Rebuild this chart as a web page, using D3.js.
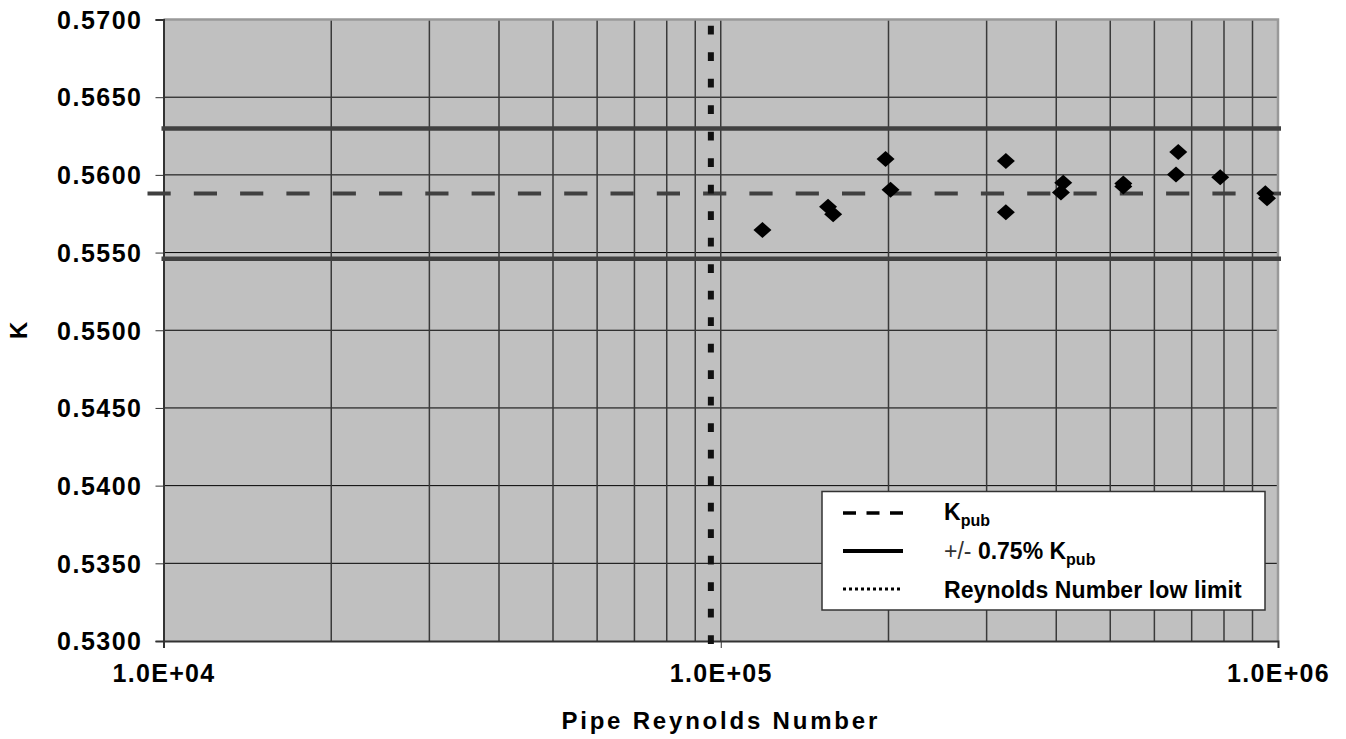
<!DOCTYPE html>
<html>
<head>
<meta charset="utf-8">
<script src="https://cdn.jsdelivr.net/npm/d3@7"></script>
<style>
  body { margin: 0; background: #fff; }
  text { font-family: "Liberation Sans", Arial, sans-serif; font-weight: bold; fill: #000; }
</style>
</head>
<body>
<script>
// measured points, pipe Reynolds number vs K
var reynolds = [118800, 155800, 159100, 197600, 201700, 324800, 324800, 411700,
                407800, 527700, 527700, 662200, 656000, 787700, 949000, 955700];
var kValues = [0.55646, 0.55795, 0.55746, 0.56102, 0.55904, 0.56089, 0.55760, 0.55949,
               0.55887, 0.55945, 0.55925, 0.56147, 0.56003, 0.55984, 0.55881, 0.55849];

// reference lines
var kPub = 0.5588;
var tolerance = 0.0075;
var reLowLimit = 96000;

// axis ticks
var yTicks = [0.5300, 0.5350, 0.5400, 0.5450, 0.5500, 0.5550, 0.5600, 0.5650, 0.5700];
var xLabelTicks = [1e4, 1e5, 1e6];
var xGridTicks = [2e4, 3e4, 4e4, 5e4, 6e4, 7e4, 8e4, 9e4, 1e5,
                  2e5, 3e5, 4e5, 5e5, 6e5, 7e5, 8e5, 9e5];

var width = 1346, height = 739;
var margin = {top: 19.5, right: 68, bottom: 98, left: 163.5};
var plotW = width - margin.left - margin.right;
var plotH = height - margin.top - margin.bottom;

var svg = d3.select("body").append("svg")
    .attr("width", width)
    .attr("height", height);

var x = d3.scaleLog().domain([1e4, 1e6]).range([margin.left, margin.left + plotW]);
var y = d3.scaleLinear().domain([0.53, 0.57]).range([margin.top + plotH, margin.top]);

// plot background
svg.append("rect")
    .attr("x", x(1e4)).attr("y", y(0.57))
    .attr("width", plotW).attr("height", plotH)
    .attr("fill", "#c0c0c0");

// horizontal grid
svg.append("g").selectAll("line")
    .data(yTicks.slice(1, -1))
    .enter().append("line")
    .attr("x1", x(1e4)).attr("x2", x(1e6))
    .attr("y1", function(d) { return y(d); })
    .attr("y2", function(d) { return y(d); })
    .attr("stroke", "#000")
    .attr("stroke-width", 1);

// vertical grid
svg.append("g").selectAll("line")
    .data(xGridTicks)
    .enter().append("line")
    .attr("x1", function(d) { return x(d); })
    .attr("x2", function(d) { return x(d); })
    .attr("y1", y(0.57)).attr("y2", y(0.53))
    .attr("stroke", "#3a3a3a")
    .attr("stroke-width", 1.5);

// top and right border
svg.append("path")
    .attr("d", "M" + x(1e4) + "," + y(0.57) + "H" + x(1e6) + "V" + y(0.53))
    .attr("fill", "none")
    .attr("stroke", "#999")
    .attr("stroke-width", 2.5);

// y axis
var yAxis = svg.append("g")
    .attr("transform", "translate(" + x(1e4) + ",0)")
    .call(d3.axisLeft(y).tickValues(yTicks).tickSize(8).tickPadding(13)
          .tickFormat(d3.format(".4f")));
yAxis.select(".domain").attr("stroke", "#333").attr("stroke-width", 2);
yAxis.selectAll(".tick line").attr("stroke", "#333");
yAxis.selectAll(".tick text")
    .attr("font-family", "Liberation Sans, Arial, sans-serif")
    .attr("font-weight", "bold")
    .attr("font-size", 25)
    .style("letter-spacing", "1.5px")
    .attr("dy", "0.35em");

// x axis
var xAxis = svg.append("g")
    .attr("transform", "translate(0," + y(0.53) + ")")
    .call(d3.axisBottom(x).tickValues(xLabelTicks).tickSize(7).tickPadding(16)
          .tickFormat(function(d) { return "1.0E+0" + Math.round(Math.log10(d)); }));
xAxis.select(".domain").attr("stroke", "#333").attr("stroke-width", 2);
xAxis.selectAll(".tick line").attr("stroke", "#333");
xAxis.selectAll(".tick text")
    .attr("font-family", "Liberation Sans, Arial, sans-serif")
    .attr("font-weight", "bold")
    .attr("font-size", 25)
    .style("letter-spacing", "1.3px");

// tolerance band lines
svg.append("g").selectAll("line")
    .data([kPub * (1 + tolerance), kPub * (1 - tolerance)])
    .enter().append("line")
    .attr("x1", x(1e4) - 2).attr("x2", x(1e6) + 3)
    .attr("y1", function(d) { return y(d); })
    .attr("y2", function(d) { return y(d); })
    .attr("stroke", "#404040")
    .attr("stroke-width", 4.5);

// published K
svg.append("line")
    .attr("x1", x(1e4) - 16).attr("x2", x(1e6) + 3)
    .attr("y1", y(kPub)).attr("y2", y(kPub))
    .attr("stroke", "#404040")
    .attr("stroke-width", 3.8)
    .attr("stroke-dasharray", "23.2,23.1");

// Reynolds number low limit
svg.append("line")
    .attr("x1", x(reLowLimit)).attr("x2", x(reLowLimit))
    .attr("y1", 25.7).attr("y2", 645)
    .attr("stroke", "#111")
    .attr("stroke-width", 6)
    .attr("stroke-dasharray", "8.8,17.7");

// diamond markers
var diamond = {
  draw: function(context, size) {
    context.moveTo(0, -8);
    context.lineTo(9, 0);
    context.lineTo(0, 8);
    context.lineTo(-9, 0);
    context.closePath();
  }
};
svg.append("g").selectAll("path")
    .data(reynolds)
    .enter().append("path")
    .attr("transform", function(d, i) { return "translate(" + x(d) + "," + y(kValues[i]) + ")"; })
    .attr("d", d3.symbol().type(diamond))
    .attr("fill", "#000");

// legend
var legend = svg.append("g");
legend.append("rect")
    .attr("x", 822).attr("y", 491.5)
    .attr("width", 443).attr("height", 118.5)
    .attr("fill", "#fff")
    .attr("stroke", "#333")
    .attr("stroke-width", 1.5);

var legendRows = [
  {y: 513, dash: "13,10.5", w: 3.5},
  {y: 551, dash: null, w: 4},
  {y: 589, dash: "3,3", w: 3}
];
legend.selectAll("line")
    .data(legendRows)
    .enter().append("line")
    .attr("x1", 843).attr("x2", 903)
    .attr("y1", function(d) { return d.y; })
    .attr("y2", function(d) { return d.y; })
    .attr("stroke", "#000")
    .attr("stroke-width", function(d) { return d.w; })
    .attr("stroke-dasharray", function(d) { return d.dash; });

var t1 = legend.append("text").attr("x", 944).attr("y", 520).attr("font-size", 23);
t1.append("tspan").text("K");
t1.append("tspan").attr("font-size", 16).attr("dy", 6).text("pub");

var t2 = legend.append("text").attr("x", 944).attr("y", 559).attr("font-size", 23);
t2.append("tspan").attr("font-weight", "normal").attr("fill", "#333").text("+/- ");
t2.append("tspan").text("0.75% K");
t2.append("tspan").attr("font-size", 16).attr("dy", 6).text("pub");

legend.append("text").attr("x", 944).attr("y", 598).attr("font-size", 23)
    .style("letter-spacing", "0.1px")
    .text("Reynolds Number low limit");

// axis titles
svg.append("text")
    .attr("x", x(1e5)).attr("y", 729)
    .attr("text-anchor", "middle")
    .attr("font-size", 24)
    .style("letter-spacing", "2.8px")
    .text("Pipe Reynolds Number");

svg.append("text")
    .attr("transform", "translate(27," + y(0.55) + ") rotate(-90)")
    .attr("text-anchor", "middle")
    .attr("font-size", 24)
    .text("K");
</script>
</body>
</html>
